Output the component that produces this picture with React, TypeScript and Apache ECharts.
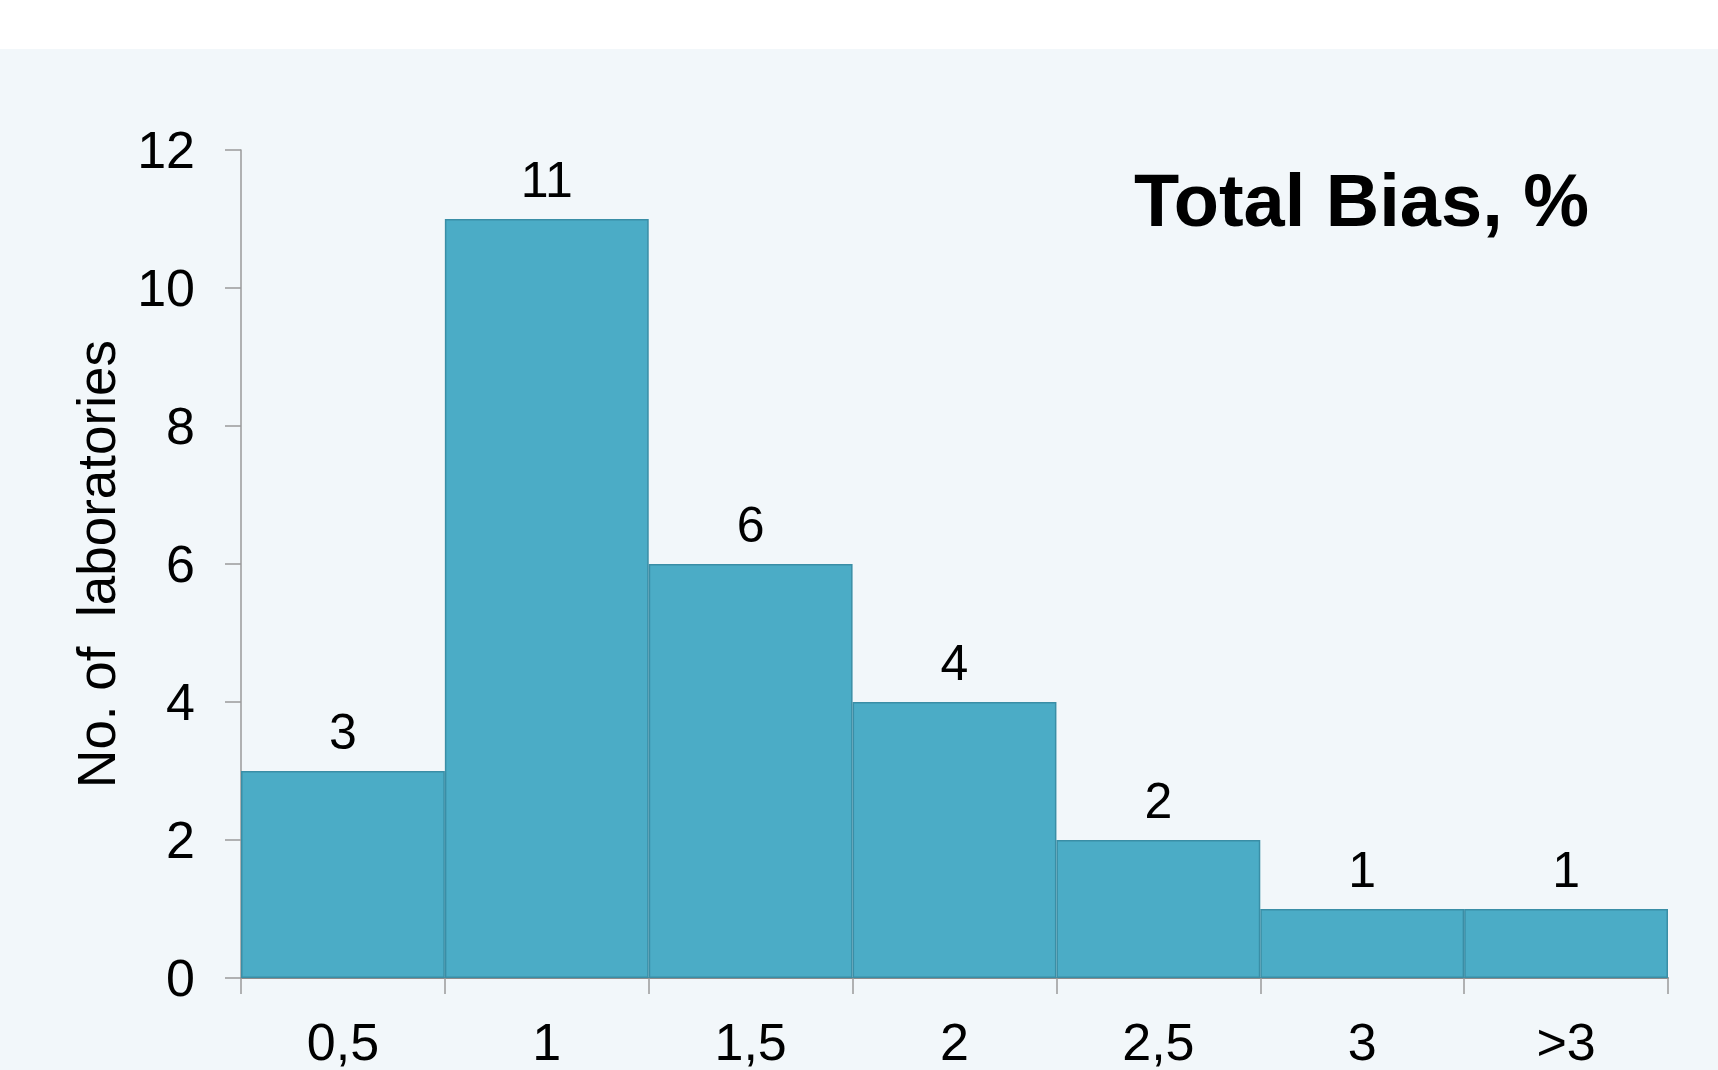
import React, { useEffect, useRef } from "react";
import * as echarts from "echarts";

const categories = ["0,5", "1", "1,5", "2", "2,5", "3", ">3"];
const counts = [3, 11, 6, 4, 2, 1, 1];
const yTicks = { min: 0, max: 12, interval: 2 };
const titleText = "Total Bias, %";
const yAxisName = "No. of  laboratories";

const FONT = "'Liberation Sans', Arial, sans-serif";

export default function App() {
  const ref = useRef<HTMLDivElement>(null);
  useEffect(() => {
    if (!ref.current) return;
    const chart = echarts.init(ref.current, undefined, { renderer: "svg" });
    chart.setOption({
      animation: false,
      backgroundColor: "#ffffff",
      textStyle: { fontFamily: FONT },
      graphic: [
        {
          type: "rect",
          z: -10,
          silent: true,
          shape: { x: 0, y: 49, width: 1718, height: 1021 },
          style: { fill: "#f2f7fa" },
        },
        {
          type: "text",
          x: 1134,
          y: 200,
          style: {
            text: titleText,
            font: `bold 74px ${FONT}`,
            fill: "#000000",
            verticalAlign: "middle",
            align: "left",
          },
        },
      ],
      grid: { left: 241, right: 50, top: 150, bottom: 92, containLabel: false },
      xAxis: {
        type: "category",
        data: categories,
        boundaryGap: true,
        axisLine: { show: true, lineStyle: { color: "#8c8c8c", width: 2 } },
        axisTick: { show: true, length: 16, lineStyle: { color: "#9a9a9a", width: 1.5 } },
        axisLabel: { color: "#000000", fontSize: 52, fontFamily: FONT, margin: 38 },
      },
      yAxis: {
        type: "value",
        min: yTicks.min,
        max: yTicks.max,
        interval: yTicks.interval,
        name: yAxisName,
        nameLocation: "middle",
        nameGap: 118,
        nameTextStyle: { color: "#000000", fontSize: 53, fontFamily: FONT },
        splitLine: { show: false },
        axisLine: { show: true, lineStyle: { color: "#9a9a9a", width: 1.5 } },
        axisTick: { show: true, length: 16, lineStyle: { color: "#9a9a9a", width: 1.5 } },
        axisLabel: { color: "#000000", fontSize: 52, fontFamily: FONT, margin: 46 },
      },
      series: [
        {
          type: "bar",
          data: counts,
          barCategoryGap: "0%",
          itemStyle: { color: "#4bacc6", borderColor: "#3a8ea6", borderWidth: 1.5 },
          label: {
            show: true,
            position: "top",
            distance: 14,
            color: "#000000",
            fontSize: 50,
            fontFamily: FONT,
          },
        },
      ],
    });
    return () => chart.dispose();
  }, []);
  return (
    <div
      ref={ref}
      style={{ position: "fixed", left: 0, top: 0, width: 1718, height: 1070 }}
    />
  );
}
